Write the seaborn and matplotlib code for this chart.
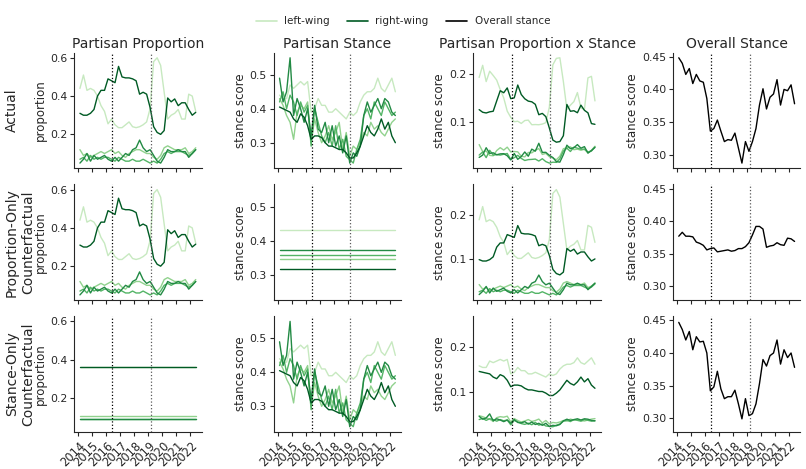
import numpy as np
import pandas as pd
import matplotlib
matplotlib.use('Agg')
import matplotlib.pyplot as plt
from matplotlib.lines import Line2D
from matplotlib.ticker import MultipleLocator
import seaborn as sns

# quarterly observations, 2014Q1 .. 2022Q2
periods = pd.period_range('2014Q1', '2022Q2', freq='Q')
groups = ['left-wing', 'lean-left', 'center', 'lean-right', 'right-wing']
event_years = [2016.43, 2019.17]

# partisan proportion (actual)
prop_left = [0.44, 0.51, 0.43, 0.44, 0.43, 0.40, 0.35, 0.32, 0.255, 0.28, 0.25, 0.235, 0.235, 0.25,
             0.265, 0.24, 0.235, 0.24, 0.25, 0.265, 0.335, 0.58, 0.60, 0.56, 0.42, 0.28, 0.30, 0.31,
             0.33, 0.28, 0.28, 0.41, 0.40, 0.32]
prop_lean_left = [0.12, 0.09, 0.10, 0.08, 0.09, 0.10, 0.11, 0.10, 0.11, 0.12, 0.10, 0.11, 0.09, 0.08,
                  0.10, 0.11, 0.12, 0.12, 0.11, 0.10, 0.10, 0.08, 0.07, 0.09, 0.13, 0.14, 0.13, 0.12,
                  0.12, 0.12, 0.13, 0.10, 0.11, 0.13]
prop_center = [0.07, 0.08, 0.06, 0.09, 0.07, 0.08, 0.07, 0.08, 0.08, 0.07, 0.06, 0.08, 0.07, 0.06,
               0.06, 0.07, 0.06, 0.06, 0.07, 0.06, 0.05, 0.06, 0.05, 0.07, 0.10, 0.11, 0.10, 0.11,
               0.11, 0.11, 0.10, 0.09, 0.10, 0.12]
prop_lean_right = [0.05, 0.07, 0.10, 0.06, 0.09, 0.07, 0.08, 0.09, 0.07, 0.06, 0.08, 0.06, 0.08, 0.10,
                   0.09, 0.12, 0.13, 0.17, 0.13, 0.11, 0.12, 0.09, 0.06, 0.05, 0.08, 0.12, 0.11, 0.11,
                   0.12, 0.11, 0.11, 0.08, 0.10, 0.12]
prop_right = [0.31, 0.30, 0.30, 0.31, 0.33, 0.40, 0.43, 0.43, 0.49, 0.48, 0.47, 0.555, 0.50, 0.495,
              0.495, 0.49, 0.48, 0.41, 0.42, 0.41, 0.34, 0.24, 0.21, 0.20, 0.22, 0.39, 0.37, 0.385,
              0.35, 0.365, 0.365, 0.33, 0.30, 0.315]

# partisan stance (actual)
stance_left = [0.44, 0.43, 0.43, 0.47, 0.46, 0.47, 0.48, 0.47, 0.48, 0.39, 0.40, 0.43, 0.41, 0.41,
               0.39, 0.39, 0.40, 0.39, 0.38, 0.37, 0.39, 0.38, 0.39, 0.42, 0.44, 0.45, 0.45, 0.46,
               0.49, 0.46, 0.45, 0.47, 0.49, 0.45]
stance_lean_left = [0.43, 0.41, 0.38, 0.36, 0.31, 0.39, 0.41, 0.40, 0.42, 0.30, 0.37, 0.33, 0.30, 0.32,
                    0.35, 0.31, 0.33, 0.36, 0.28, 0.33, 0.26, 0.29, 0.28, 0.30, 0.33, 0.32, 0.36, 0.34,
                    0.35, 0.33, 0.32, 0.34, 0.36, 0.37]
stance_center = [0.42, 0.45, 0.40, 0.44, 0.42, 0.38, 0.42, 0.39, 0.41, 0.29, 0.40, 0.36, 0.32, 0.30,
                 0.33, 0.29, 0.35, 0.28, 0.31, 0.26, 0.25, 0.24, 0.28, 0.31, 0.38, 0.40, 0.37, 0.42,
                 0.40, 0.38, 0.42, 0.40, 0.38, 0.39]
stance_lean_right = [0.49, 0.42, 0.45, 0.55, 0.38, 0.43, 0.40, 0.36, 0.40, 0.32, 0.41, 0.34, 0.33, 0.36,
                     0.30, 0.35, 0.29, 0.32, 0.27, 0.32, 0.24, 0.27, 0.26, 0.29, 0.38, 0.42, 0.39, 0.41,
                     0.43, 0.40, 0.43, 0.42, 0.39, 0.38]
stance_right = [0.405, 0.40, 0.395, 0.39, 0.37, 0.36, 0.385, 0.375, 0.35, 0.31, 0.32, 0.32, 0.315, 0.30,
                0.29, 0.29, 0.285, 0.28, 0.28, 0.27, 0.255, 0.255, 0.27, 0.29, 0.32, 0.35, 0.33, 0.32,
                0.34, 0.37, 0.34, 0.36, 0.32, 0.30]

# counterfactual constants (per group, left -> right)
const_stance = [0.43, 0.345, 0.357, 0.371, 0.317]
const_prop = [0.36, 0.108, 0.09, 0.092, 0.36]

# overall stance
overall_actual = [0.4485, 0.44, 0.423, 0.432, 0.409, 0.423, 0.413, 0.411, 0.386, 0.336, 0.34, 0.353,
                  0.336, 0.32, 0.323, 0.322, 0.333, 0.31, 0.287, 0.32, 0.305, 0.32, 0.34, 0.376, 0.401,
                  0.37, 0.388, 0.393, 0.415, 0.376, 0.40, 0.398, 0.407, 0.378]
overall_prop_only = [0.377, 0.383, 0.377, 0.377, 0.376, 0.368, 0.366, 0.363, 0.356, 0.358, 0.359, 0.353,
                     0.354, 0.355, 0.356, 0.354, 0.355, 0.358, 0.358, 0.361, 0.367, 0.379, 0.392, 0.392,
                     0.388, 0.36, 0.362, 0.363, 0.367, 0.364, 0.363, 0.374, 0.373, 0.369]
overall_stance_only = [0.447, 0.436, 0.42, 0.433, 0.405, 0.425, 0.417, 0.418, 0.40, 0.342, 0.348, 0.372,
                       0.345, 0.33, 0.333, 0.333, 0.343, 0.322, 0.299, 0.33, 0.304, 0.307, 0.322, 0.353,
                       0.39, 0.38, 0.396, 0.40, 0.42, 0.383, 0.405, 0.393, 0.40, 0.378]

row_names = ['Actual', 'Proportion-Only\nCounterfactual', 'Stance-Only\nCounterfactual']
col_titles = ['Partisan Proportion', 'Partisan Stance', 'Partisan Proportion x Stance', 'Overall Stance']

year = np.asarray(periods.year + (periods.quarter - 0.5) / 4, dtype=float)
n = len(year)
props = np.array([prop_left, prop_lean_left, prop_center, prop_lean_right, prop_right])
stances = np.array([stance_left, stance_lean_left, stance_center, stance_lean_right, stance_right])
const_s = np.array(const_stance)[:, None] * np.ones(n)
const_p = np.array(const_prop)[:, None] * np.ones(n)

rows = [
    (props, stances, overall_actual),
    (props, const_s, overall_prop_only),
    (const_p, stances, overall_stance_only),
]


def long_df(mat):
    frames = []
    for g, vals in zip(groups, mat):
        frames.append(pd.DataFrame({'year': year, 'value': vals, 'group': g}))
    return pd.concat(frames, ignore_index=True)


sns.set_style('ticks')
plt.rcParams['font.family'] = ['DejaVu Sans']
greens = sns.color_palette('Greens', as_cmap=True)
palette = [greens(v) for v in [0.25, 0.42, 0.58, 0.75, 0.93]]

fig, axes = plt.subplots(3, 4, figsize=(8.06, 4.69), dpi=100)
fig.subplots_adjust(left=0.092, right=0.993, bottom=0.079, top=0.888, wspace=0.567, hspace=0.138)
for c in [0, 1, 3]:
    axes[1, c].sharey(axes[0, c])
    axes[2, c].sharey(axes[0, c])

for r, (p, s, overall) in enumerate(rows):
    panels = [p, s, p * s]
    for c in range(3):
        ax = axes[r, c]
        sns.lineplot(data=long_df(panels[c]), x='year', y='value', hue='group', hue_order=groups,
                     palette=palette, legend=False, linewidth=1.0, ax=ax)
    ax = axes[r, 3]
    sns.lineplot(x=year, y=overall, color='black', linewidth=1.0, ax=ax)

    for c in range(4):
        ax = axes[r, c]
        for k, ev in enumerate(event_years):
            ax.axvline(ev, color='black' if k == 0 else '0.35', linestyle=':', linewidth=0.9)
        ax.set_xticks(range(2014, 2023))
        ax.set_xlabel('')
        ax.set_ylabel('proportion' if c == 0 else 'stance score', fontsize=8.5, labelpad=2)
        ax.tick_params(labelsize=7.8, length=3, pad=2)
        if r < 2:
            ax.tick_params(labelbottom=False)
        else:
            ax.tick_params(axis='x', labelsize=8.3)
            plt.setp(ax.get_xticklabels(), rotation=45, ha='right', rotation_mode='anchor')
        if r == 0:
            ax.set_title(col_titles[c], fontsize=10, pad=3)
        sns.despine(ax=ax)

    pos = axes[r, 0].get_position()
    fig.text(5 / 806, (pos.y0 + pos.y1) / 2, row_names[r], rotation=90, ha='left', va='center',
             fontsize=10, multialignment='center')

axes[0, 0].yaxis.set_major_locator(MultipleLocator(0.2))
axes[0, 1].yaxis.set_major_locator(MultipleLocator(0.1))
axes[0, 3].yaxis.set_major_locator(MultipleLocator(0.05))
for r in range(3):
    axes[r, 2].yaxis.set_major_locator(MultipleLocator(0.1))
axes[2, 2].set_ylim(0.01, 0.27)

handles = [Line2D([], [], color=palette[0], lw=1.2),
           Line2D([], [], color=palette[-1], lw=1.2),
           Line2D([], [], color='black', lw=1.2)]
fig.legend(handles, ['left-wing', 'right-wing', 'Overall stance'], loc='upper center',
           bbox_to_anchor=(0.5, 0.985), ncol=3, frameon=False, fontsize=7.5,
           handlelength=2.0, handletextpad=0.7, columnspacing=1.7)

fig.savefig('out.png', dpi=100)
